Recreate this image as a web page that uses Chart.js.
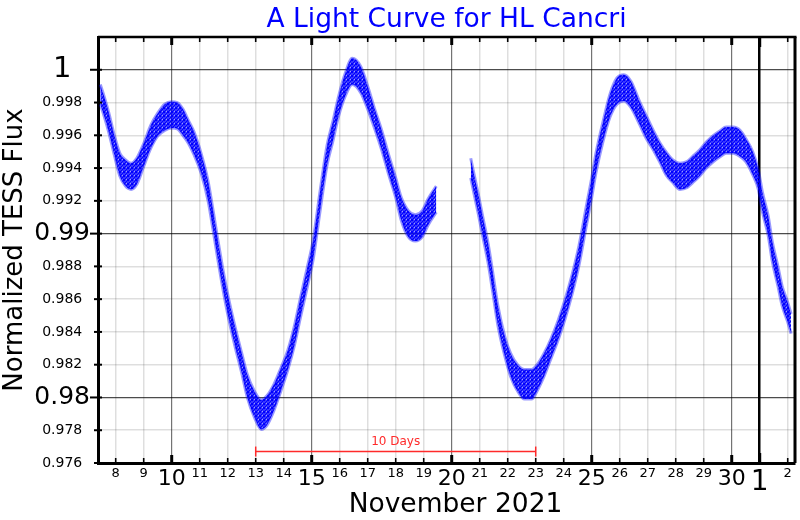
<!DOCTYPE html>
<html><head><meta charset="utf-8">
<script src="https://cdn.jsdelivr.net/npm/chart.js@4/dist/chart.umd.min.js"></script>
<style>html,body{margin:0;padding:0;background:#fff;}#wrap{width:800px;height:520px;}</style>
</head><body><div id="wrap"><canvas id="c" width="800" height="520"></canvas></div>
<script>
// ---------- data ----------
const chartTitle = "A Light Curve for HL Cancri";
const yAxisTitle = "Normalized TESS Flux";
const xAxisTitle = "November 2021";

const dayTicks = [8,9,10,11,12,13,14,15,16,17,18,19,20,21,22,23,24,25,26,27,28,29,30,31,32];
const dayTickLabels = ["8","9","10","11","12","13","14","15","16","17","18","19","20","21","22","23","24","25","26","27","28","29","30","1","2"];
const majorDays = [10,15,20,25,30,31];
const monthStartDays = [31];

const fluxTicks = [0.976,0.978,0.980,0.982,0.984,0.986,0.988,0.990,0.992,0.994,0.996,0.998,1.000];
const fluxTickLabels = ["0.976","0.978","0.98","0.982","0.984","0.986","0.988","0.99","0.992","0.994","0.996","0.998","1"];
const majorFlux = [0.980,0.990,1.000];

// first observing segment (day of November, flux centre, half-width of scatter)
const seg1Days = [7.45,7.6,7.75,7.95,8.15,8.35,8.55,8.75,9.0,9.25,9.5,9.75,10.0,10.2,10.4,10.6,10.8,11.05,11.3,11.47,11.64,11.82,12.0,12.25,12.5,12.7,12.95,13.2,13.4,13.65,13.9,14.15,14.4,14.6,14.85,15.05,15.3,15.55,15.75,15.95,16.2,16.45,16.75,17.0,17.25,17.5,17.75,18.0,18.2,18.45,18.7,18.95,19.15,19.45];
const seg1Flux = [0.9985,0.9977,0.9968,0.9954,0.9942,0.9937,0.9935,0.9938,0.9948,0.9959,0.99665,0.9971,0.99725,0.9972,0.9968,0.9962,0.9955,0.9943,0.9926,0.9909,0.9891,0.9873,0.9857,0.9838,0.9821,0.9807,0.9796,0.97895,0.9792,0.9800,0.9811,0.9823,0.9839,0.9855,0.9874,0.9890,0.9920,0.9948,0.9962,0.9977,0.9991,0.9999,0.9994,0.9983,0.9970,0.9957,0.9942,0.9928,0.9915,0.9906,0.99035,0.9906,0.9913,0.9921];
const seg1Spread = [0.0006,0.0006,0.0006,0.0006,0.0007,0.0008,0.0008,0.0008,0.0007,0.0007,0.0007,0.0008,0.0008,0.0008,0.0008,0.0007,0.0007,0.0006,0.0006,0.0006,0.0006,0.0006,0.0006,0.0006,0.0006,0.0007,0.0008,0.0009,0.0009,0.0008,0.0007,0.0006,0.0006,0.0006,0.0006,0.0006,0.0006,0.0006,0.0006,0.0006,0.0007,0.0008,0.0008,0.0007,0.0006,0.0006,0.0006,0.0006,0.0007,0.0008,0.0008,0.0008,0.0008,0.0008];

// second observing segment
const seg2Days = [20.68,20.8,20.95,21.1,21.3,21.45,21.65,21.9,22.1,22.35,22.6,22.85,23.05,23.3,23.55,23.8,24.05,24.3,24.55,24.8,25.0,25.15,25.4,25.65,25.9,26.15,26.4,26.7,26.95,27.2,27.45,27.65,27.9,28.15,28.4,28.6,28.85,29.1,29.35,29.6,29.8,30.05,30.3,30.5,30.75,30.95,31.1,31.3,31.45,31.65,31.8,32.0,32.12];
const seg2Flux = [0.9940,0.9930,0.9918,0.9905,0.9888,0.9872,0.9850,0.9831,0.9820,0.9812,0.9808,0.9808,0.9812,0.9820,0.9830,0.9841,0.9854,0.9869,0.9887,0.9910,0.9928,0.9943,0.9962,0.9978,0.9987,0.9989,0.9985,0.9974,0.9965,0.9957,0.9949,0.9943,0.9938,0.9935,0.9936,0.9939,0.9943,0.9948,0.9952,0.9955,0.9957,0.9957,0.9955,0.9951,0.9943,0.9933,0.9919,0.9905,0.9889,0.9874,0.9862,0.9852,0.9845];
const seg2Spread = [0.0006,0.0006,0.0006,0.0006,0.0006,0.0006,0.0006,0.0006,0.0007,0.0008,0.0009,0.0009,0.0008,0.0007,0.0006,0.0006,0.0006,0.0006,0.0006,0.0006,0.0006,0.0006,0.0006,0.0007,0.0008,0.0008,0.0008,0.0007,0.0007,0.0006,0.0006,0.0007,0.0007,0.0008,0.0008,0.0008,0.0008,0.0008,0.0008,0.0008,0.0008,0.0008,0.0008,0.0007,0.0007,0.0006,0.0006,0.0006,0.0006,0.0006,0.0006,0.0006,0.0006];

// "10 Days" scale bar
const bracketDays = [13, 23];
const bracketFlux = 0.9767;
const bracketLabel = "10 Days";

// ---------- styling / chart ----------
const FONT = "'DejaVu Sans', 'Liberation Sans', sans-serif";

function makePattern(c) {
  const pc = document.createElement('canvas');
  pc.width = 4; pc.height = 4;
  const p = pc.getContext('2d');
  p.fillStyle = 'rgba(0,0,255,0.78)';
  p.fillRect(0,0,4,4);
  p.fillStyle = '#0000ff';
  [[0,0],[2,1],[1,2],[3,3],[3,0],[0,3]].forEach(([a,b]) => p.fillRect(a,b,1,1));
  p.clearRect(2,3,1,1);
  p.fillStyle = 'rgba(0,0,255,0.4)';
  p.fillRect(2,3,1,1);
  return c.createPattern(pc, 'repeat');
}
const ctx0 = document.getElementById('c').getContext('2d');
const bandFill = makePattern(ctx0);

function band(days, flux, spread, sign) {
  return days.map((d, i) => ({ x: d, y: flux[i] + sign * spread[i] }));
}
function bandDataset(data, fill) {
  return {
    data, fill, backgroundColor: bandFill,
    borderColor: 'rgba(0,0,255,0.4)', borderWidth: 3,
    pointRadius: 0, cubicInterpolationMode: 'monotone'
  };
}

const isMajorDay = v => majorDays.some(m => Math.abs(m - v) < 1e-6);
const isMonthDay = v => monthStartDays.some(m => Math.abs(m - v) < 1e-6);
const isMajorFlux = v => majorFlux.some(m => Math.abs(m - v) < 1e-7);

const decorPlugin = {
  id: 'decor',
  afterDatasetsDraw(chart) {
    const c = chart.ctx, xs = chart.scales.x, ys = chart.scales.y, a = chart.chartArea;
    c.save();
    c.strokeStyle = '#000';
    // top / right frame
    c.lineWidth = 2.5;
    c.beginPath(); c.moveTo(a.left, a.top); c.lineTo(a.right + 1.5, a.top); c.stroke();
    c.lineWidth = 3;
    c.beginPath(); c.moveTo(a.right, a.top); c.lineTo(a.right, a.bottom); c.stroke();
    // day ticks top & bottom (inward)
    dayTicks.forEach(d => {
      const x = xs.getPixelForValue(d);
      const major = isMajorDay(d);
      const len = isMonthDay(d) ? 10 : (major ? 8 : 5);
      c.lineWidth = major ? 3 : 1.6;
      c.beginPath(); c.moveTo(x, a.top); c.lineTo(x, a.top + len); c.stroke();
      c.beginPath(); c.moveTo(x, a.bottom + 1); c.lineTo(x, a.bottom - len); c.stroke();
    });
    // flux ticks left
    fluxTicks.forEach(f => {
      const y = ys.getPixelForValue(f);
      const major = isMajorFlux(f);
      c.lineWidth = 2;
      c.beginPath(); c.moveTo(a.left - (major ? 8 : 4), y); c.lineTo(a.left + 4, y); c.stroke();
    });
    // 10-day bar
    const x1 = xs.getPixelForValue(bracketDays[0]);
    const x2 = xs.getPixelForValue(bracketDays[1]);
    const yb = ys.getPixelForValue(bracketFlux);
    c.strokeStyle = '#ff2a2a';
    c.lineWidth = 1.5;
    c.beginPath(); c.moveTo(x1, yb); c.lineTo(x2, yb); c.stroke();
    c.beginPath(); c.moveTo(x1, yb - 5); c.lineTo(x1, yb + 5); c.stroke();
    c.beginPath(); c.moveTo(x2, yb - 5); c.lineTo(x2, yb + 5); c.stroke();
    c.fillStyle = '#ff2a2a';
    c.font = "12px " + FONT;
    c.textAlign = 'center';
    c.textBaseline = 'alphabetic';
    c.fillText(bracketLabel, (x1 + x2) / 2, yb - 7);
    // chart title (centred on plot area) and x-axis title
    const cx = (a.left + a.right) / 2;
    c.fillStyle = '#0000ff';
    c.font = "26.5px " + FONT;
    c.fillText(chartTitle, cx, 27);
    c.fillStyle = '#000';
    c.font = "26.5px " + FONT;
    c.fillText(xAxisTitle, cx + 9, 512);
    c.restore();
  }
};

new Chart(ctx0, {
  type: 'line',
  data: {
    datasets: [
      bandDataset(band(seg1Days, seg1Flux, seg1Spread, 1), '+1'),
      bandDataset(band(seg1Days, seg1Flux, seg1Spread, -1), false),
      bandDataset(band(seg2Days, seg2Flux, seg2Spread, 1), '+1'),
      bandDataset(band(seg2Days, seg2Flux, seg2Spread, -1), false)
    ]
  },
  options: {
    responsive: false,
    animation: false,
    events: [],
    layout: { padding: { left: 0, right: 5, top: 37, bottom: 0 } },
    plugins: {
      legend: { display: false },
      tooltip: { enabled: false },
      title: { display: false }
    },
    scales: {
      x: {
        type: 'linear', min: 7.368, max: 32.26,
        afterBuildTicks: s => { s.ticks = dayTicks.map(v => ({ value: v })); },
        afterFit: s => { s.height = 57; },
        ticks: {
          autoSkip: false, maxRotation: 0, padding: 3, color: '#000',
          callback: (v, i) => dayTickLabels[i],
          font: ctx => {
            const v = ctx.tick ? ctx.tick.value : 0;
            if (isMonthDay(v)) return { family: FONT, size: 28 };
            if (isMajorDay(v)) return { family: FONT, size: 22 };
            return { family: FONT, size: 13 };
          }
        },
        grid: {
          drawTicks: false,
          color: ctx => {
            const v = ctx.tick ? ctx.tick.value : 0;
            if (isMonthDay(v)) return '#000';
            if (isMajorDay(v)) return 'rgba(0,0,0,0.55)';
            return 'rgba(0,0,0,0.13)';
          },
          lineWidth: ctx => {
            const v = ctx.tick ? ctx.tick.value : 0;
            if (isMonthDay(v)) return 2.5;
            if (isMajorDay(v)) return 1.2;
            return 1.5;
          }
        },
        border: { display: true, color: '#000', width: 3 },
        title: { display: false }
      },
      y: {
        type: 'linear', min: 0.976, max: 1.002,
        afterBuildTicks: s => { s.ticks = fluxTicks.map(v => ({ value: v })); },
        afterFit: s => { s.width = 98; },
        ticks: {
          autoSkip: false, padding: 8, crossAlign: 'center', color: '#000',
          callback: (v, i) => fluxTickLabels[i],
          font: ctx => {
            const v = ctx.tick ? ctx.tick.value : 0;
            if (Math.abs(v - 1) < 1e-7) return { family: FONT, size: 29 };
            if (isMajorFlux(v)) return { family: FONT, size: 25 };
            return { family: FONT, size: 14 };
          }
        },
        grid: {
          drawTicks: false,
          color: ctx => {
            const v = ctx.tick ? ctx.tick.value : 0;
            return isMajorFlux(v) ? 'rgba(0,0,0,0.7)' : 'rgba(0,0,0,0.13)';
          },
          lineWidth: ctx => {
            const v = ctx.tick ? ctx.tick.value : 0;
            return isMajorFlux(v) ? 1.3 : 1.5;
          }
        },
        border: { display: true, color: '#000', width: 3 },
        title: {
          display: true, text: yAxisTitle, color: '#000',
          font: { family: FONT, size: 26 }, padding: { top: 0, bottom: 0 }
        }
      }
    }
  },
  plugins: [decorPlugin]
});
</script>
</body></html>
